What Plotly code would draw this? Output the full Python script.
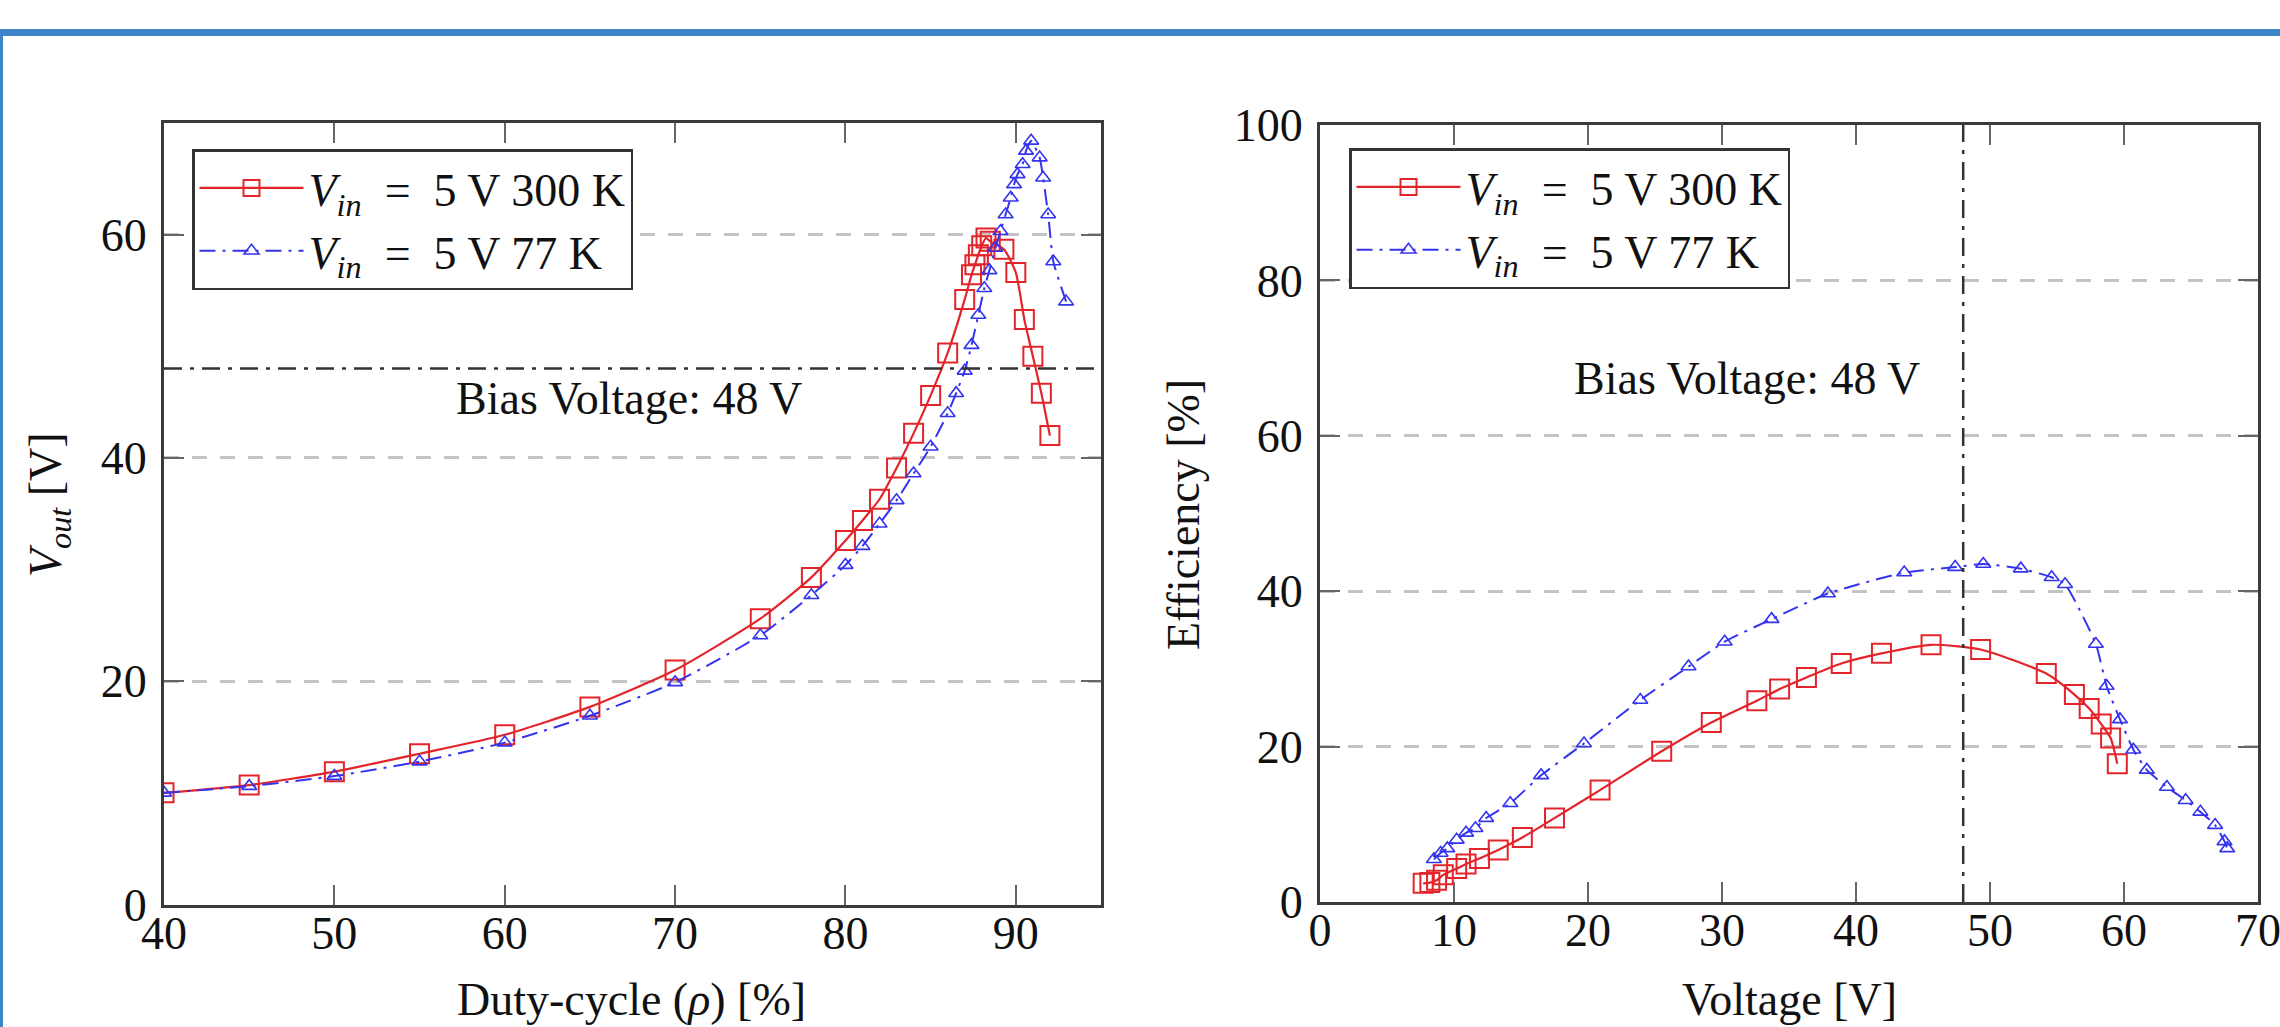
import plotly.graph_objects as go

# ---------------- data ----------------
# Left panel: output voltage vs duty cycle
duty_300 = [40, 45, 50, 55, 60, 65, 70, 75, 78, 80, 81, 82, 83, 84, 85, 86, 87, 87.4, 87.6,
            87.8, 88, 88.25, 88.5, 89.3, 90, 90.5, 91, 91.5, 92]
vout_300 = [10.0, 10.7, 11.9, 13.5, 15.2, 17.7, 21.0, 25.6, 29.3, 32.6, 34.4, 36.3, 39.1, 42.2,
            45.6, 49.4, 54.2, 56.4, 57.3, 58.2, 59.0, 59.7, 59.4, 58.7, 56.6, 52.4, 49.1, 45.8, 42.0]

duty_77 = [40, 45, 50, 55, 60, 65, 70, 75, 78, 80, 81, 82, 83, 84, 85, 86, 86.5, 87, 87.4, 87.8,
           88.15, 88.45, 88.8, 89.1, 89.4, 89.7, 89.9, 90.1, 90.4, 90.6, 90.9, 91.4, 91.6, 91.9,
           92.2, 92.95]
vout_77 = [10.0, 10.6, 11.5, 12.8, 14.5, 16.9, 19.9, 24.1, 27.7, 30.4, 32.1, 34.1, 36.2, 38.6,
           41.0, 44.0, 45.8, 47.8, 50.1, 52.8, 55.2, 56.8, 58.8, 60.3, 61.8, 63.3, 64.5, 65.4,
           66.3, 67.5, 68.4, 66.9, 65.1, 61.8, 57.6, 54.0]

# Right panel: efficiency vs output voltage
volt_300 = [7.7, 8.2, 8.7, 9.2, 10.2, 10.9, 11.9, 13.3, 15.1, 17.5, 20.9, 25.5, 29.2, 32.6, 34.3,
            36.3, 38.9, 41.9, 45.6, 49.3, 54.2, 56.3, 57.4, 58.3, 59.0, 59.5]
eff_300 = [2.4, 2.5, 2.8, 3.5, 4.3, 4.9, 5.6, 6.7, 8.3, 10.8, 14.4, 19.4, 23.1, 25.9, 27.4, 28.9,
           30.7, 32.0, 33.1, 32.5, 29.4, 26.7, 24.9, 22.9, 21.1, 17.8]

volt_77 = [8.5, 9.0, 9.5, 10.2, 10.9, 11.6, 12.4, 14.2, 16.5, 19.7, 23.9, 27.5, 30.2, 33.7, 37.9,
           43.6, 47.4, 49.5, 52.3, 54.6, 55.6, 57.9, 58.7, 59.7, 60.7, 61.7, 63.2, 64.6, 65.7,
           66.8, 67.5, 67.7]
eff_77 = [5.5, 6.3, 6.9, 8.0, 8.9, 9.5, 10.8, 12.7, 16.3, 20.4, 26.0, 30.3, 33.5, 36.4, 39.7,
          42.4, 43.1, 43.5, 42.9, 41.8, 40.9, 33.2, 27.8, 23.5, 19.6, 17.0, 14.8, 13.1, 11.6,
          9.9, 7.8, 6.9]

bias_voltage = 48
bias_label = "Bias Voltage: 48 V"
name_300 = "<i>V</i><sub><i>in</i></sub> &nbsp;=&nbsp; 5 V 300 K"
name_77 = "<i>V</i><sub><i>in</i></sub> &nbsp;=&nbsp; 5 V 77 K"

left_xticks = [40, 50, 60, 70, 80, 90]
left_yticks = [0, 20, 40, 60]
right_xticks = [0, 10, 20, 30, 40, 50, 60, 70]
right_yticks = [0, 20, 40, 60, 80, 100]

# ---------------- style ----------------
FONT = "Liberation Serif"
RED = "#e3242b"
BLUE = "#3434ee"
W, H = 2280, 1027
DASHDOT_BLUE = "16px,7px,3px,7px"

fig = go.Figure()

# left panel traces
fig.add_trace(go.Scatter(x=duty_300, y=vout_300, mode="lines+markers", name=name_300,
                         line=dict(color=RED, width=2.2, shape="spline", smoothing=0.6),
                         marker=dict(symbol="square-open", size=19, color=RED, line=dict(width=2)),
                         xaxis="x", yaxis="y", legend="legend"))
fig.add_trace(go.Scatter(x=duty_77, y=vout_77, mode="lines+markers", name=name_77,
                         line=dict(color=BLUE, width=2, dash=DASHDOT_BLUE, shape="spline", smoothing=0.5),
                         marker=dict(symbol="triangle-up-open", size=13, color=BLUE, line=dict(width=1.6)),
                         xaxis="x", yaxis="y", legend="legend"))

# right panel traces
fig.add_trace(go.Scatter(x=volt_300, y=eff_300, mode="lines+markers", name=name_300,
                         line=dict(color=RED, width=2.2, shape="spline", smoothing=0.6),
                         marker=dict(symbol="square-open", size=19, color=RED, line=dict(width=2)),
                         xaxis="x2", yaxis="y2", legend="legend2"))
fig.add_trace(go.Scatter(x=volt_77, y=eff_77, mode="lines+markers", name=name_77,
                         line=dict(color=BLUE, width=2, dash=DASHDOT_BLUE, shape="spline", smoothing=0.5),
                         marker=dict(symbol="triangle-up-open", size=13, color=BLUE, line=dict(width=1.6)),
                         xaxis="x2", yaxis="y2", legend="legend2"))

axis_common = dict(
    showline=True, linecolor="#3a3a3a", linewidth=3, mirror="ticks",
    ticks="inside", ticklen=20, tickwidth=1.5, tickcolor="#666",
    zeroline=False, tickfont=dict(family=FONT, size=46, color="#111"),
    automargin=False, ticklabeloverflow="allow",
)
grid_y = dict(showgrid=True, gridcolor="#c4c4c4", gridwidth=2.5, griddash="15px,13px")

legend_common = dict(xanchor="left", yanchor="top",
                     bgcolor="white", bordercolor="#333", borderwidth=2.5,
                     font=dict(family=FONT, size=46, color="#111"), tracegroupgap=0,
                     itemwidth=104)

fig.update_layout(
    width=W, height=H,
    margin=dict(l=0, r=0, t=0, b=0, pad=0, autoexpand=False),
    paper_bgcolor="white", plot_bgcolor="white",
    font=dict(family=FONT, size=46, color="#111"),
    xaxis=dict(domain=[164 / W, 1101 / W], range=[40, 95], tickvals=left_xticks,
               showgrid=False, anchor="y", ticklabelstandoff=-14, **axis_common),
    yaxis=dict(domain=[1 - 904.5 / H, 1 - 123 / H], range=[0, 70], tickvals=left_yticks,
               anchor="x", ticklabelstandoff=5, **grid_y, **axis_common),
    xaxis2=dict(domain=[1320 / W, 2258 / W], range=[0, 70], tickvals=right_xticks,
                showgrid=False, anchor="y2", ticklabelstandoff=-14, **axis_common),
    yaxis2=dict(domain=[1 - 902 / H, 1 - 125 / H], range=[0, 100], tickvals=right_yticks,
                anchor="x2", ticklabelstandoff=5, **grid_y, **axis_common),
    legend=dict(x=192 / W, y=1 - 149 / H, **legend_common),
    legend2=dict(x=1349 / W, y=1 - 148 / H, **legend_common),
    showlegend=True,
)

# bias voltage reference lines
fig.add_shape(type="line", xref="x", yref="y", x0=40, x1=95, y0=bias_voltage, y1=bias_voltage,
              line=dict(color="#333", width=2.5, dash="18px,8px,4px,8px"), layer="above")
fig.add_shape(type="line", xref="x2", yref="y2", x0=bias_voltage, x1=bias_voltage, y0=0, y1=100,
              line=dict(color="#333", width=2.5, dash="18px,8px,4px,8px"), layer="above")

fig.add_annotation(x=67.3, y=45.3, xref="x", yref="y", text=bias_label, showarrow=False,
                   xanchor="center", yanchor="middle",
                   font=dict(family=FONT, size=46, color="#111"))
fig.add_annotation(x=31.9, y=67.4, xref="x2", yref="y2", text=bias_label, showarrow=False,
                   xanchor="center", yanchor="middle",
                   font=dict(family=FONT, size=46, color="#111"))

# axis titles
title_font = dict(family=FONT, size=46, color="#111")
fig.add_annotation(x=632 / W, y=1 - 999 / H, xref="paper", yref="paper",
                   text="Duty-cycle (<i>ρ</i>) [%]", showarrow=False,
                   xanchor="center", yanchor="middle", font=title_font)
fig.add_annotation(x=1789 / W, y=1 - 999 / H, xref="paper", yref="paper",
                   text="Voltage [V]", showarrow=False,
                   xanchor="center", yanchor="middle", font=title_font)
fig.add_annotation(x=49 / W, y=1 - 505 / H, xref="paper", yref="paper",
                   text="<i>V</i><sub><i>out</i></sub> [V]", showarrow=False, textangle=-90,
                   xanchor="center", yanchor="middle", font=title_font)
fig.add_annotation(x=1183 / W, y=1 - 515 / H, xref="paper", yref="paper",
                   text="Efficiency [%]", showarrow=False, textangle=-90,
                   xanchor="center", yanchor="middle", font=title_font)

# blue page frame (top bar and left edge)
fig.add_shape(type="rect", xref="paper", yref="paper", x0=0, x1=1, y0=1 - 36 / H, y1=1 - 29 / H,
              fillcolor="#3d84c8", line=dict(width=0))
fig.add_shape(type="rect", xref="paper", yref="paper", x0=0, x1=3 / W, y0=0, y1=1 - 29 / H,
              fillcolor="#3d84c8", line=dict(width=0))

fig.write_html("out.html", config={"displayModeBar": False},
               post_script="document.body.style.margin='0';document.body.style.overflow='hidden';")
